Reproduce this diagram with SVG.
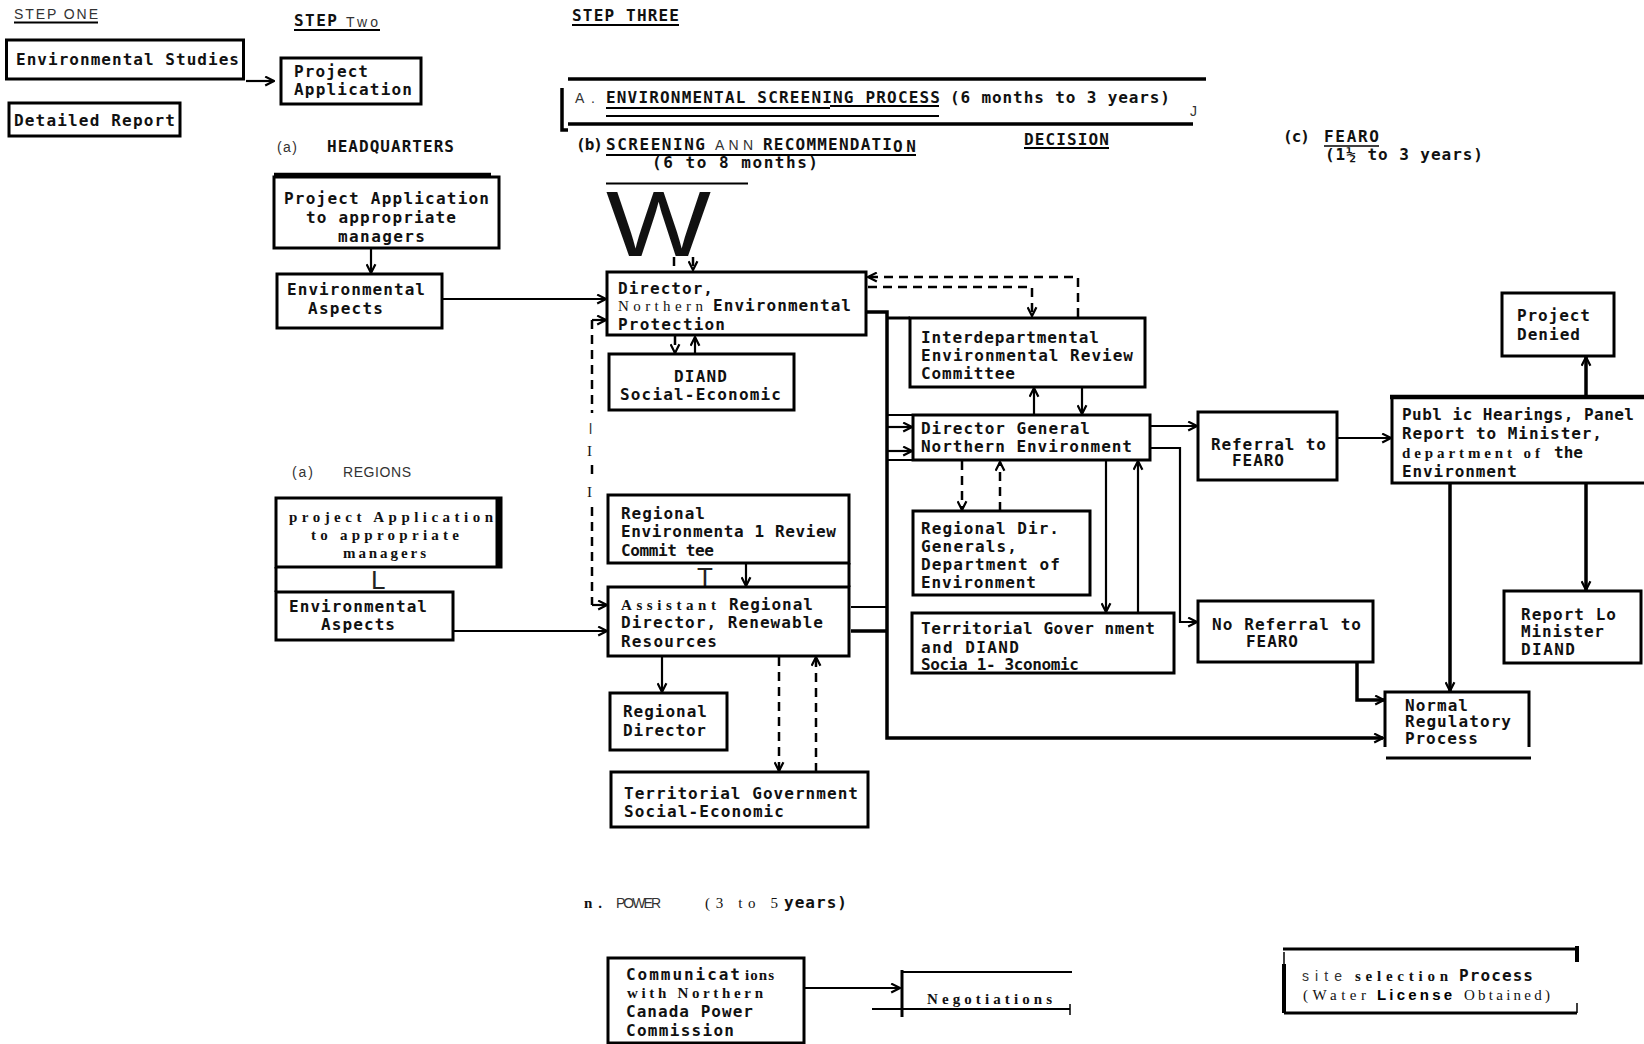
<svg xmlns="http://www.w3.org/2000/svg" width="1644" height="1044" viewBox="0 0 1644 1044">
<defs>
<style>
.m{font-family:"DejaVu Sans Mono","Liberation Mono",monospace;font-weight:bold;font-size:16px;fill:#111}
.s{font-family:"Liberation Serif",serif;font-weight:bold;font-size:15px;fill:#111}
.sn{font-family:"Liberation Serif",serif;font-size:15px;fill:#111}
.l{font-family:"Liberation Sans",Arial,sans-serif;font-size:14px;fill:#333}
.b{fill:none;stroke:#000;stroke-width:3}
.c{fill:none;stroke:#000;stroke-width:2.2}
.k{fill:none;stroke:#000;stroke-width:3.5}
.d{fill:none;stroke:#000;stroke-width:2.5;stroke-dasharray:9 6}
.u{fill:none;stroke:#000;stroke-width:2}
</style>
<marker id="a" viewBox="0 0 10 10" refX="9" refY="5" markerWidth="11" markerHeight="11" markerUnits="userSpaceOnUse" orient="auto"><path d="M1,1 L9,5 L1,9" fill="none" stroke="#000" stroke-width="2"/></marker>
</defs>
<rect width="1644" height="1044" fill="#fff"/>

<g id="headings">
<text class="l" x="14" y="19" textLength="84">STEP ONE</text>
<path class="u" d="M14,22.5 H98"/>
<text class="m" x="294" y="26" textLength="43">STEP</text>
<text class="l" x="346" y="27" textLength="32">Two</text>
<path class="u" d="M294,30 H380"/>
<text class="m" x="572" y="21" textLength="107">STEP THREE</text>
<path class="u" d="M572,25 H679"/>
<text class="l" x="277" y="152" textLength="20">(a)</text>
<text class="m" x="327" y="152" textLength="127">HEADQUARTERS</text>
<text class="l" x="292" y="477" textLength="21">(a)</text>
<text class="l" x="343" y="477" textLength="68">REGIONS</text>
<path class="k" d="M568,79 H1206"/>
<path class="k" d="M562,88 V130 H568"/>
<path class="k" d="M568,124 H1193"/>
<text class="l" x="575" y="103" font-size="11" textLength="20">A .</text>
<text class="m" x="606" y="103" textLength="334">ENVIRONMENTAL SCREENING PROCESS</text>
<text class="m" x="950" y="103" textLength="220">(6 months to 3 years)</text>
<path class="u" d="M606,108 H830 M830,106 H939 M606,116 H939"/>
<text class="l" x="1190" y="116" font-size="12" fill="#555">J</text>
<text class="m" x="576" y="150" textLength="27">(b)</text>
<text class="m" x="606" y="150" textLength="99">SCREENING</text>
<text class="l" x="715" y="150" font-size="12" textLength="38">ANN</text>
<text class="m" x="763" y="150" textLength="129">RECOMMENDATI</text>
<text class="m" x="893" y="152" textLength="23">ON</text>
<path class="u" d="M606,155 H916"/>
<text class="m" x="652" y="168" font-size="14" textLength="166">(6 to 8 months)</text>
<text class="m" x="1024" y="145" textLength="85">DECISION</text>
<path class="u" d="M1024,148 H1109"/>
<text class="m" x="1283" y="142" textLength="27">(c)</text>
<text class="m" x="1324" y="142" textLength="55">FEARO</text>
<path d="M1324,146 H1379" stroke="#000" stroke-width="1.5"/>
<text class="m" x="1325" y="160" textLength="158">(1½ to 3 years)</text>
<path class="u" d="M606,183.5 H748"/>
<text x="606" y="256" font-family="Liberation Sans, Arial, sans-serif" font-size="92" fill="#111" textLength="105" lengthAdjust="spacingAndGlyphs">W</text>
<text class="s" x="584" y="908" textLength="18">n.</text>
<text class="l" x="616" y="908" font-size="12" textLength="45">POWER</text>
<text class="sn" x="705" y="908" textLength="73">(3 to 5</text>
<text class="m" x="784" y="908" textLength="63">years)</text>
</g>

<g id="n-env-studies"><rect class="b" x="6.5" y="40" width="237" height="39"/><text class="m" x="16" y="65" textLength="223">Environmental Studies</text></g>
<g id="n-detailed-report"><rect class="b" x="9" y="103" width="171" height="33"/><text class="m" x="14" y="126" textLength="161">Detailed Report</text></g>
<g id="n-project-application"><rect class="b" x="281" y="58" width="140" height="46"/><text class="m" x="294" y="77" textLength="74">Project</text><text class="m" x="294" y="95" textLength="118">Application</text></g>

<g id="n-hq-project-application"><rect class="b" x="274" y="177" width="225" height="71"/><path d="M274,175 H491" stroke="#000" stroke-width="4.5"/>
<text class="m" x="284" y="204" textLength="205">Project Application</text><text class="m" x="306" y="223" textLength="150">to appropriate</text><text class="m" x="338" y="242" textLength="87">managers</text></g>
<g id="n-hq-env-aspects"><rect class="b" x="277" y="274" width="165" height="54"/><text class="m" x="287" y="295" textLength="138">Environmental</text><text class="m" x="308" y="314" textLength="75">Aspects</text></g>

<g id="n-reg-project-application"><rect class="b" x="276" y="498" width="225" height="69"/><path d="M498.5,498 V567" stroke="#000" stroke-width="6"/><path class="b" d="M276,567 V592"/>
<text class="s" x="289" y="522" textLength="204">project Application</text><text class="s" x="311" y="540" textLength="148">to appropriate</text><text class="s" x="343" y="558" textLength="83">managers</text>
<text x="371" y="589" font-family="Liberation Sans, Arial, sans-serif" font-size="26" fill="#222">L</text></g>
<g id="n-reg-env-aspects"><rect class="b" x="276" y="592" width="177" height="48"/><text class="m" x="289" y="612" textLength="138">Environmental</text><text class="m" x="321" y="630" textLength="74">Aspects</text></g>

<g id="n-director"><rect class="b" x="607" y="272" width="259" height="63"/>
<text class="m" x="618" y="294" textLength="95">Director,</text><text class="sn" x="618" y="311" textLength="85">Northern</text><text class="m" x="713" y="311" textLength="138">Environmental</text><text class="m" x="618" y="330" textLength="107">Protection</text></g>
<g id="n-diand"><rect class="b" x="609" y="354" width="185" height="56"/><text class="m" x="674" y="382" textLength="53">DIAND</text><text class="m" x="620" y="400" textLength="161">Social-Economic</text></g>
<g id="n-interdept"><rect class="b" x="910" y="318" width="235" height="69"/><path class="b" d="M887,318 H910"/>
<text class="m" x="921" y="343" textLength="178">Interdepartmental</text><text class="m" x="921" y="361" textLength="212">Environmental Review</text><text class="m" x="921" y="379" textLength="94">Committee</text></g>
<g id="n-dg"><rect class="b" x="913" y="415" width="237" height="45"/><path class="c" d="M887,415 H913 M887,460 H913"/>
<text class="m" x="921" y="434" textLength="169">Director General</text><text class="m" x="921" y="452" textLength="211">Northern Environment</text></g>
<g id="n-rdg"><rect class="b" x="913" y="511" width="177" height="84"/>
<text class="m" x="921" y="534" textLength="138">Regional Dir.</text><text class="m" x="921" y="552" textLength="96">Generals,</text><text class="m" x="921" y="570" textLength="139">Department of</text><text class="m" x="921" y="588" textLength="115">Environment</text></g>
<g id="n-tg-diand"><rect class="b" x="912" y="613" width="262" height="60"/>
<text class="m" x="921" y="634" textLength="234">Territorial Gover nment</text><text class="m" x="921" y="653" textLength="98">and DIAND</text><text class="m" x="921" y="670" textLength="158">Socia 1- 3conomic</text></g>
<g id="n-rerc"><rect class="b" x="608" y="495" width="241" height="68"/><path class="b" d="M849,563 V587"/>
<text class="m" x="621" y="519" textLength="84">Regional</text><text class="m" x="621" y="537" textLength="215">Environmenta 1 Review</text><text class="m" x="621" y="556" textLength="93">Commit tee</text>
<text x="697" y="586" font-family="Liberation Sans, Arial, sans-serif" font-size="26" fill="#222">T</text></g>
<g id="n-ard"><rect class="b" x="608" y="587" width="241" height="69"/>
<text class="s" x="621" y="610" textLength="95">Assistant</text><text class="m" x="729" y="610" textLength="84">Regional</text><text class="m" x="621" y="628" textLength="202">Director, Renewable</text><text class="m" x="621" y="647" textLength="96">Resources</text></g>
<g id="n-regional-director"><rect class="b" x="610" y="693" width="117" height="57"/><text class="m" x="623" y="717" textLength="84">Regional</text><text class="m" x="623" y="736" textLength="83">Director</text></g>
<g id="n-tgse"><rect class="b" x="611" y="772" width="257" height="55"/><text class="m" x="624" y="799" textLength="234">Territorial Government</text><text class="m" x="624" y="817" textLength="160">Social-Economic</text></g>

<g id="n-referral"><rect class="b" x="1198" y="412" width="139" height="68"/><text class="m" x="1211" y="450" textLength="115">Referral to</text><text class="m" x="1232" y="466" textLength="52">FEARO</text></g>
<g id="n-no-referral"><rect class="b" x="1198" y="601" width="175" height="61"/><text class="m" x="1212" y="630" textLength="149">No Referral to</text><text class="m" x="1246" y="647" textLength="52">FEARO</text></g>
<g id="n-public-hearings"><path class="b" d="M1392,397 V483 H1644"/><path d="M1390,397 H1644" stroke="#000" stroke-width="4.5"/>
<text class="m" x="1402" y="420" textLength="232">Publ ic Hearings, Panel</text><text class="m" x="1402" y="439" textLength="200">Report to Minister,</text><text class="s" x="1402" y="458" textLength="138">department of</text><text class="m" x="1554" y="458" textLength="29">the</text><text class="m" x="1402" y="477" textLength="115">Environment</text></g>
<g id="n-denied"><rect class="b" x="1502" y="293" width="112" height="63"/><text class="m" x="1517" y="321" textLength="73">Project</text><text class="m" x="1517" y="340" textLength="63">Denied</text></g>
<g id="n-report-minister"><rect class="b" x="1504" y="591" width="137" height="72"/><text class="m" x="1521" y="620" textLength="95">Report Lo</text><text class="m" x="1521" y="637" textLength="83">Minister</text><text class="m" x="1521" y="655" textLength="54">DIAND</text></g>
<g id="n-normal"><path class="b" d="M1385,747 V692 H1529 V747"/><path class="b" d="M1386,758 H1531"/>
<text class="m" x="1405" y="711" textLength="63">Normal</text><text class="m" x="1405" y="727" textLength="106">Regulatory</text><text class="m" x="1405" y="744" textLength="73">Process</text></g>

<g id="n-communications"><rect class="b" x="608" y="958" width="196" height="85"/>
<text class="m" x="626" y="980" textLength="114">Communicat</text><text class="s" x="745" y="980" textLength="29">ions</text><text class="s" x="627" y="998" textLength="136">with Northern</text><text class="m" x="626" y="1017" textLength="127">Canada Power</text><text class="m" x="626" y="1036" textLength="108">Commission</text></g>
<g id="n-negotiations"><path class="b" d="M902,970 V1017"/><path class="u" d="M902,972 H1072 M872,1009 H1070"/><path d="M1070,1004 V1015" stroke="#000" stroke-width="1.5"/>
<text class="s" x="927" y="1004" textLength="125">Negotiations</text></g>
<g id="n-site-selection"><path class="b" d="M1283,949 H1577 M1284,1013 H1577"/><path d="M1577,946 V962" stroke="#000" stroke-width="4"/><path d="M1284,964 V1013" stroke="#000" stroke-width="4"/><path d="M1284,952 V964 M1577,1003 V1013" stroke="#000" stroke-width="1.5"/>
<text class="l" x="1302" y="981" textLength="40" fill="#444">site</text><text class="s" x="1355" y="981" textLength="93">selection</text><text class="m" x="1459" y="981" textLength="74">Process</text>
<text class="sn" x="1303" y="1000" textLength="63">(Water</text><text x="1377" y="1000" font-family="Liberation Sans, Arial, sans-serif" font-weight="bold" font-size="15" textLength="75">License</text><text class="sn" x="1464" y="1000" textLength="86">Obtained)</text></g>

<g id="connectors">
<path class="c" d="M246,81 H274" marker-end="url(#a)"/>
<path class="c" d="M371,248 V273" marker-end="url(#a)"/>
<path class="c" d="M442,299 H606" marker-end="url(#a)"/>
<path class="c" d="M453,631 H607" marker-end="url(#a)"/>
<path class="d" d="M674,257 V271"/>
<path class="d" d="M693,257 V270" marker-end="url(#a)"/>
<path class="d" d="M675,336 V353" marker-end="url(#a)"/>
<path class="c" d="M695,353 V337" marker-end="url(#a)"/>
<path class="d" d="M592,320 V413 M592,465 V478 M592,507 V605"/>
<path class="c" d="M592,320 H606" marker-end="url(#a)"/>
<path class="c" d="M592,605 H607" marker-end="url(#a)"/>
<text class="l" x="589" y="434" font-size="13" fill="#aaa">l</text>
<text class="sn" x="587" y="456" font-size="16">I</text>
<text class="sn" x="587" y="497" font-size="16">I</text>
<path class="d" d="M1078,317 V277 H868" marker-end="url(#a)"/>
<path class="d" d="M868,287 H1032 V316" marker-end="url(#a)"/>
<path class="k" d="M866,312 H887 V738 H1383" marker-end="url(#a)"/>
<path class="c" d="M851,607 H887"/>
<path class="k" d="M851,631 H887"/>
<path class="c" d="M887,427 H912" marker-end="url(#a)"/>
<path class="c" d="M887,451 H912" marker-end="url(#a)"/>
<path class="c" d="M1034,415 V388" marker-end="url(#a)"/>
<path class="c" d="M1082,387 V414" marker-end="url(#a)"/>
<path class="d" d="M962,461 V510" marker-end="url(#a)"/>
<path class="d" d="M1000,511 V462" marker-end="url(#a)"/>
<path class="c" d="M1106,460 V612" marker-end="url(#a)"/>
<path class="c" d="M1138,613 V461" marker-end="url(#a)"/>
<path class="c" d="M1150,426 H1197" marker-end="url(#a)"/>
<path class="c" d="M1150,448 H1180 V622 H1197" marker-end="url(#a)"/>
<path class="c" d="M1337,438 H1391" marker-end="url(#a)"/>
<path class="k" d="M1357,662 V700 H1384" marker-end="url(#a)"/>
<path class="k" d="M1450,483 V691" marker-end="url(#a)"/>
<path class="k" d="M1586,483 V590" marker-end="url(#a)"/>
<path class="k" d="M1586,397 V357" marker-end="url(#a)"/>
<path class="c" d="M746,563 V586" marker-end="url(#a)"/>
<path class="c" d="M662,656 V692" marker-end="url(#a)"/>
<path class="d" d="M779,657 V771" marker-end="url(#a)"/>
<path class="d" d="M816,772 V657" marker-end="url(#a)"/>
<path class="c" d="M804,988 H900" marker-end="url(#a)"/>
</g>
</svg>
